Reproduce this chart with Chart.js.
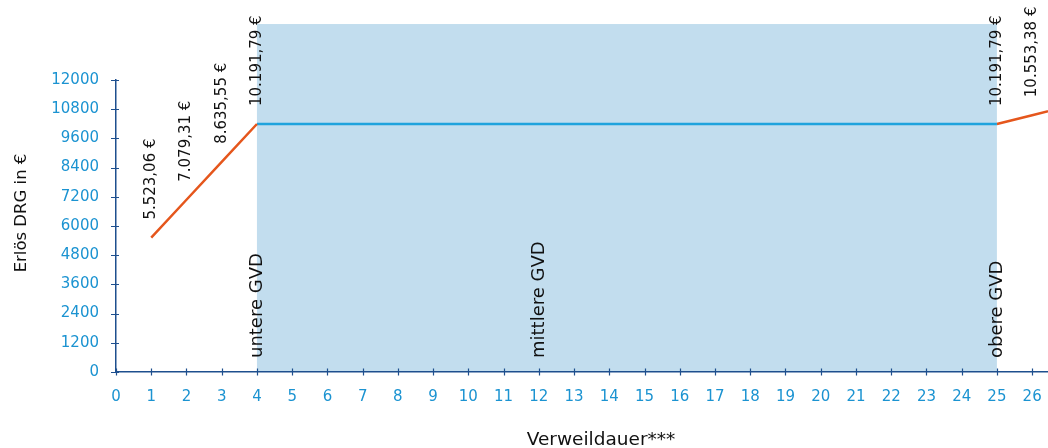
<!DOCTYPE html>
<html lang="de">
<head>
<meta charset="utf-8">
<title>Erlös DRG nach Verweildauer</title>
<script src="https://cdn.jsdelivr.net/npm/chart.js@4.4.1/dist/chart.umd.min.js"></script>
<style>
  html, body { margin: 0; padding: 0; background: #ffffff; }
  #wrap { width: 1048px; height: 448px; position: relative; }
</style>
</head>
<body>
<div id="wrap"><canvas id="chart" width="1048" height="448"></canvas></div>
<script>
// Verweildauer in Tagen und der zugehörige Erlös (€)
const verweildauer = [1, 2, 3, 4, 25, 26];
const erloes = [5523.06, 7079.31, 8635.55, 10191.79, 10191.79, 10553.38];
// Fortsetzung des Zuschlags über den Achsenrand hinaus
const tagFortsetzung = 27;
const erloesFortsetzung = 10915;

// Grenzverweildauern
const gvdTage = [4, 12, 25];
const gvdNamen = ['untere GVD', 'mittlere GVD', 'obere GVD'];
// Obergrenze der Hinterlegung zwischen unterer und oberer GVD
const bandOben = 14300;

// Achsenbeschriftungen
const xTicks = [0, 1, 2, 3, 4, 5, 6, 7, 8, 9, 10, 11, 12, 13, 14, 15, 16, 17, 18, 19, 20, 21, 22, 23, 24, 25, 26];
const yTicks = [0, 1200, 2400, 3600, 4800, 6000, 7200, 8400, 9600, 10800, 12000];
const xTitel = 'Verweildauer***';
const yTitel = 'Erlös DRG in €';

const COL_ORANGE = '#e5561c';
const COL_BLUE = '#1fa3dd';
const COL_BAND = '#c2ddee';
const COL_AXIS = '#1e4f8e';
const COL_TICK = '#1b93d1';
const COL_TEXT = '#111111';
const FONT = '"DejaVu Sans", Verdana, sans-serif';

const pt = i => ({ x: verweildauer[i], y: erloes[i] });
const anstieg = [0, 1, 2, 3].map(pt);
const plateau = [3, 4].map(pt);
const zuschlag = [4, 5].map(pt).concat([{ x: tagFortsetzung, y: erloesFortsetzung }]);

function euro(v) {
  const [ganz, dez] = v.toFixed(2).split('.');
  return ganz.replace(/\B(?=(\d{3})+(?!\d))/g, '.') + ',' + dez + ' €';
}

function vText(ctx, text, x, y, font, color, align) {
  ctx.save();
  ctx.translate(x, y);
  ctx.rotate(-Math.PI / 2);
  ctx.font = font;
  ctx.fillStyle = color;
  ctx.textAlign = align || 'left';
  ctx.textBaseline = 'middle';
  ctx.fillText(text, 0, 0);
  ctx.restore();
}

const bandPlugin = {
  id: 'gvdBand',
  beforeDraw(chart) {
    const { ctx, scales: { x, y } } = chart;
    const x0 = x.getPixelForValue(gvdTage[0]);
    const x1 = x.getPixelForValue(gvdTage[2]);
    const y0 = y.getPixelForValue(0);
    const y1 = y.getPixelForValue(bandOben);
    ctx.save();
    ctx.fillStyle = COL_BAND;
    ctx.fillRect(x0, y1, x1 - x0, y0 - y1);
    ctx.restore();
  }
};

const crossTicksPlugin = {
  id: 'crossTicks',
  afterDraw(chart) {
    const { ctx, scales: { x, y } } = chart;
    const ax = y.getPixelForValue(0);
    const ay = x.getPixelForValue(0);
    ctx.save();
    ctx.strokeStyle = COL_AXIS;
    ctx.lineWidth = 1.2;
    ctx.beginPath();
    xTicks.forEach(t => {
      const px = Math.round(x.getPixelForValue(t)) + 0.5;
      ctx.moveTo(px, ax - 3.5);
      ctx.lineTo(px, ax + 3.5);
    });
    yTicks.forEach(t => {
      const py = Math.round(y.getPixelForValue(t)) + 0.5;
      ctx.moveTo(ay - 5, py);
      ctx.lineTo(ay + 3, py);
    });
    ctx.stroke();
    ctx.restore();
  }
};

const labelPlugin = {
  id: 'labels',
  afterDatasetsDraw(chart) {
    const { ctx, scales: { x, y } } = chart;
    verweildauer.forEach((t, i) => {
      const px = x.getPixelForValue(t);
      const py = y.getPixelForValue(erloes[i]);
      vText(ctx, euro(erloes[i]), px, py - 18, '15px ' + FONT, COL_TEXT);
    });
    const base = y.getPixelForValue(0);
    gvdTage.forEach((t, i) => {
      vText(ctx, gvdNamen[i], x.getPixelForValue(t), base - 14, '18px ' + FONT, COL_TEXT);
    });
  }
};

// Achsentitel
const titlePlugin = {
  id: 'axisTitles',
  afterDraw(chart) {
    const { ctx } = chart;
    vText(ctx, yTitel, 22, 213, '16.5px ' + FONT, COL_TEXT, 'center');
    ctx.save();
    ctx.font = '18.5px ' + FONT;
    ctx.fillStyle = COL_TEXT;
    ctx.textAlign = 'center';
    ctx.textBaseline = 'alphabetic';
    ctx.fillText(xTitel, 601, 445);
    ctx.restore();
  }
};

const lineDs = (data, color) => ({
  data,
  showLine: true,
  borderColor: color,
  backgroundColor: color,
  borderWidth: 2.5,
  pointRadius: 0,
  pointHoverRadius: 0,
  tension: 0
});

new Chart(document.getElementById('chart'), {
  type: 'scatter',
  data: {
    datasets: [
      lineDs(anstieg, COL_ORANGE),
      lineDs(plateau, COL_BLUE),
      lineDs(zuschlag, COL_ORANGE)
    ]
  },
  options: {
    responsive: false,
    animation: false,
    events: [],
    layout: { padding: { top: 80, right: 0, bottom: 0, left: 0 } },
    plugins: { legend: { display: false }, tooltip: { enabled: false } },
    scales: {
      x: {
        type: 'linear',
        min: 0,
        max: 26.45,
        afterBuildTicks: s => { s.ticks = xTicks.map(v => ({ value: v })); },
        afterFit: s => { s.height = 76; s.paddingLeft = 0; s.paddingRight = 0; },
        grid: { display: false, drawTicks: false },
        border: { display: true, color: COL_AXIS, width: 1.5 },
        ticks: {
          color: COL_TICK,
          font: { family: FONT, size: 15 },
          padding: 16,
          maxRotation: 0,
          autoSkip: false
        },
        title: { display: false }
      },
      y: {
        type: 'linear',
        min: 0,
        max: 12000,
        afterBuildTicks: s => { s.ticks = yTicks.map(v => ({ value: v })); },
        afterFit: s => { s.width = 116; s.paddingTop = 0; s.paddingBottom = 0; },
        grid: { display: false, drawTicks: false },
        border: { display: true, color: COL_AXIS, width: 1.5 },
        ticks: {
          color: COL_TICK,
          font: { family: FONT, size: 15 },
          padding: 17,
          autoSkip: false,
          callback: v => String(v)
        },
        title: { display: false }
      }
    }
  },
  plugins: [bandPlugin, labelPlugin, crossTicksPlugin, titlePlugin]
});
</script>
</body>
</html>
